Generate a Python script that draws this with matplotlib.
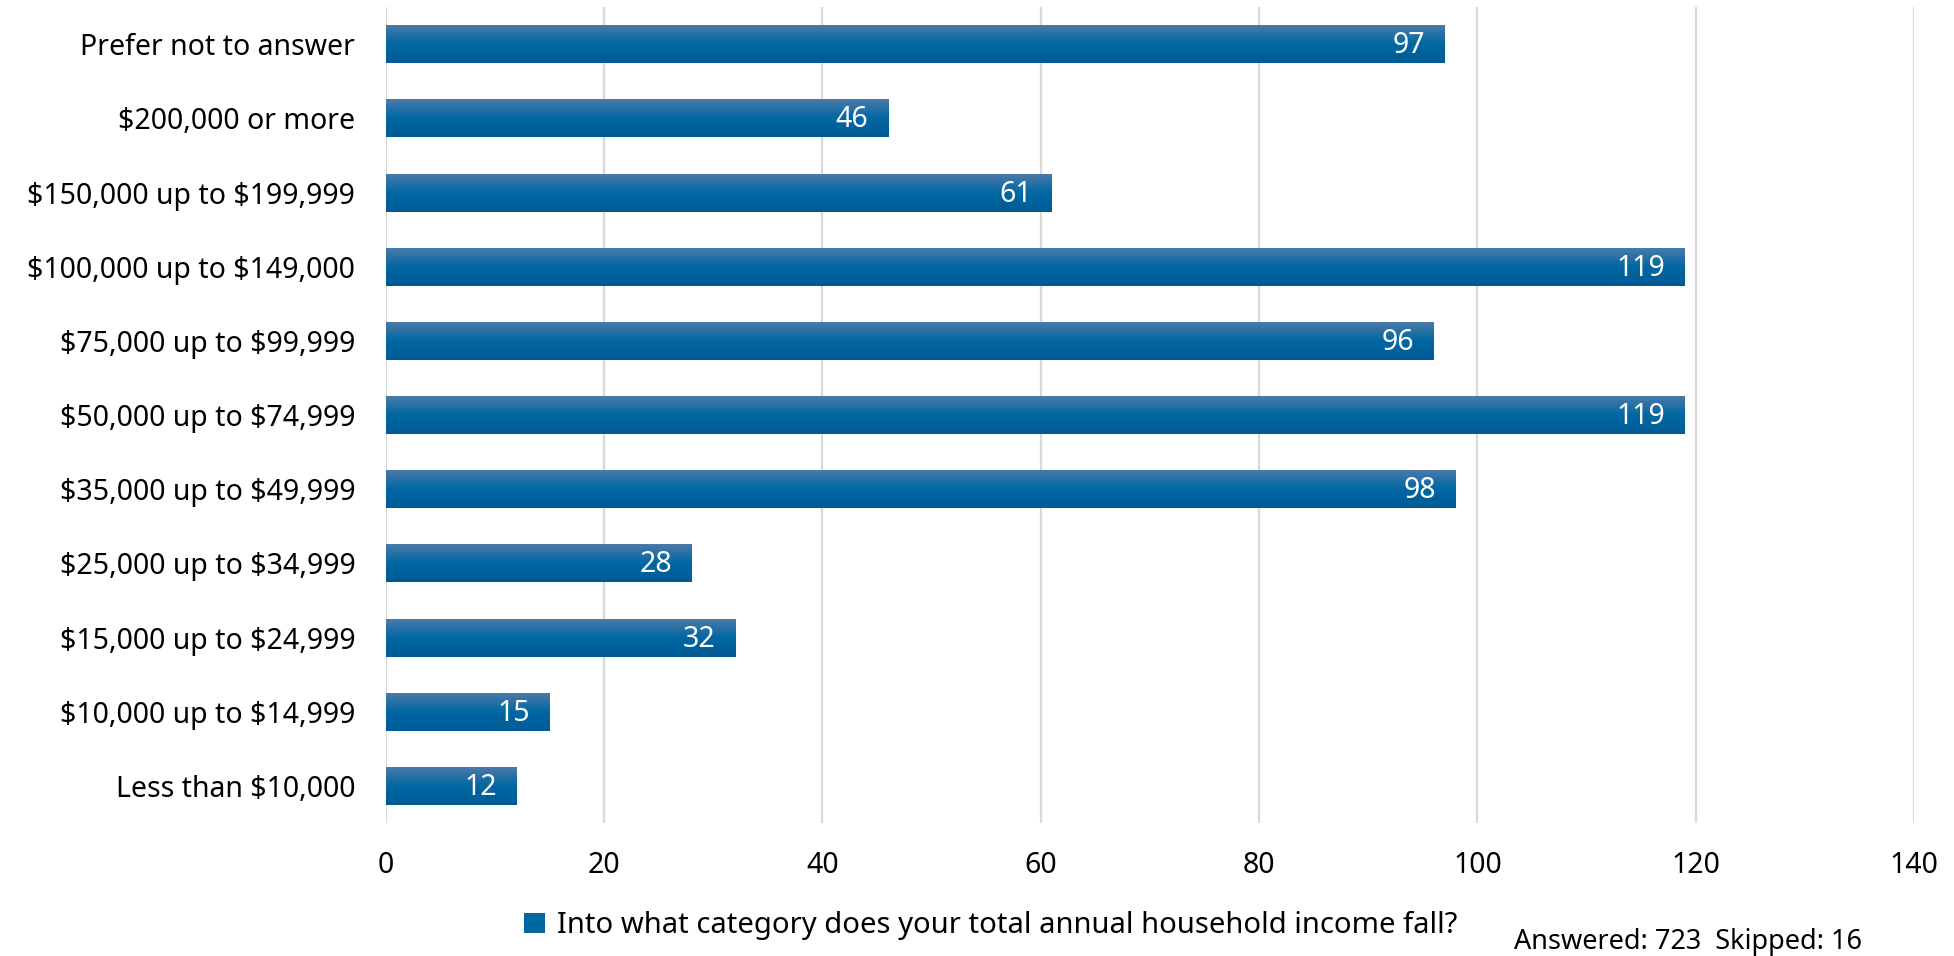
import numpy as np
import matplotlib.pyplot as plt
from matplotlib.colors import LinearSegmentedColormap
from matplotlib.patches import Patch

# data, top to bottom as in the chart
categories = ["Prefer not to answer", "$200,000 or more", "$150,000 up to $199,999",
              "$100,000 up to $149,000", "$75,000 up to $99,999", "$50,000 up to $74,999",
              "$35,000 up to $49,999", "$25,000 up to $34,999", "$15,000 up to $24,999",
              "$10,000 up to $14,999", "Less than $10,000"]
counts = [97, 46, 61, 119, 96, 119, 98, 28, 32, 15, 12]
xticks = [0, 20, 40, 60, 80, 100, 120, 140]
series_name = "Into what category does your total annual household income fall?"
footer = "Answered: 723  Skipped: 16"

plt.rcParams['font.family'] = ['Noto Sans', 'DejaVu Sans']
plt.rcParams['text.parse_math'] = False

fig = plt.figure(figsize=(19.54, 9.56), dpi=100)
ax = fig.add_axes([0.1975, 0.139, 0.782, 0.8535])

pos = np.arange(len(categories))[::-1]
bars = ax.barh(pos, counts, height=0.51, color='none', edgecolor='none', zorder=3)

# vertical gradient inside each bar
cmap = LinearSegmentedColormap.from_list('bar', [(0, '#4a7aa8'), (0.5, '#0067a3'), (1, '#005b95')])
grad = np.linspace(0, 1, 64).reshape(-1, 1)
for b in bars:
    x0, y0, w, h = b.get_x(), b.get_y(), b.get_width(), b.get_height()
    ax.imshow(grad, cmap=cmap, extent=[x0, x0 + w, y0, y0 + h], aspect='auto',
              origin='upper', zorder=3, interpolation='bilinear')

for p, v in zip(pos, counts):
    ax.annotate(str(v), xy=(v, p), xytext=(-14, -1), textcoords='offset points',
                ha='right', va='center', color='white', fontsize=20.5, zorder=4)

ax.set_xlim(0, 140)
ax.set_ylim(-0.5, len(categories) - 0.5)
ax.set_xticks(xticks)
ax.set_yticks(pos)
ax.set_yticklabels(categories)
ax.tick_params(axis='both', length=0, labelsize=20.5, colors='black')
ax.tick_params(axis='x', pad=20)
ax.tick_params(axis='y', pad=22)
ax.grid(axis='x', color='#d9d9d9', linewidth=1.6, zorder=0)
ax.set_axisbelow(True)
for s in ax.spines.values():
    s.set_visible(False)

handle = Patch(facecolor='#0067a3', edgecolor='none')
fig.legend([handle], [series_name], loc='center', bbox_to_anchor=(0.507, 0.032),
           frameon=False, fontsize=21, handlelength=0.7, handleheight=0.7,
           handletextpad=0.4)
fig.text(0.953, 0.015, footer, ha='right', va='center', fontsize=19.5)

fig.savefig('out.png', dpi=100)
